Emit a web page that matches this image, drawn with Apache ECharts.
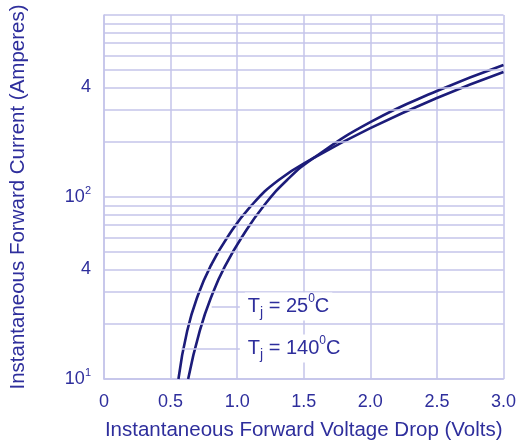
<!DOCTYPE html>
<html>
<head>
<meta charset="utf-8">
<script src="https://cdn.jsdelivr.net/npm/echarts@6/dist/echarts.min.js"></script>
<style>
  html, body { margin: 0; padding: 0; background: #ffffff; }
  #chart { width: 519px; height: 447px; }
</style>
</head>
<body>
<div id="chart"></div>
<script>
// ---- Data ----
const xTicks = [0, 0.5, 1.0, 1.5, 2.0, 2.5, 3.0];
const yMajor = [10, 100, 1000];
const yMinor = [20, 30, 40, 50, 60, 70, 80, 90, 200, 300, 400, 500, 600, 700, 800, 900];
const yFourLabels = [40, 400];

const volt25 = [0.632, 0.719, 0.817, 0.910, 1.041, 1.199, 1.375, 1.575, 2.0, 2.5, 3.0];
const amp25  = [10, 18.4, 29.7, 41.8, 61.1, 89.3, 124, 164, 258, 382, 531];

const volt140 = [0.559, 0.625, 0.709, 0.801, 0.928, 1.104, 1.312, 1.575, 2.0, 2.5, 3.0];
const amp140  = [10, 18.4, 29.3, 41.8, 60.3, 89.3, 124, 164, 239, 350, 486];

// annotation leader lines: [xStart, xEnd, yValue]
const lead25  = [0.809, 1.02, 25];
const lead140 = [0.58, 1.02, 14.7];

const FONT = "Arial, 'Liberation Sans', sans-serif";
const TXT = '#2e2e9c';
const GRID = '#c4c4ea';
const CURVE = '#1c1c7a';

const pairs = (xs, ys) => xs.map((x, i) => [x, ys[i]]);

const annRich = {
  t: { fontSize: 20, lineHeight: 28, color: TXT, fontFamily: FONT },
  j: { fontSize: 14, lineHeight: 13, verticalAlign: 'bottom', color: TXT, fontFamily: FONT },
  o: { fontSize: 12, lineHeight: 11, verticalAlign: 'top', color: TXT, fontFamily: FONT }
};

const chart = echarts.init(document.getElementById('chart'), null, { renderer: 'canvas' });
chart.setOption({
  backgroundColor: '#ffffff',
  animation: false,
  grid: { left: 103, right: 14, top: 15, bottom: 68 },
  xAxis: {
    type: 'value', min: 0, max: 3, interval: 0.5,
    axisLine: { show: true, lineStyle: { color: GRID, width: 1.5 } },
    axisTick: { show: false },
    splitLine: { show: true, lineStyle: { color: GRID, width: 1.5 } },
    axisLabel: {
      margin: 14, fontSize: 18, color: TXT, fontFamily: FONT,
      formatter: v => (v === 0 ? '0' : v.toFixed(1))
    },
    name: 'Instantaneous Forward Voltage Drop (Volts)',
    nameLocation: 'middle', nameGap: 41,
    nameTextStyle: { fontSize: 20.5, color: TXT, fontFamily: FONT }
  },
  yAxis: {
    type: 'log', logBase: 10, min: 10, max: 1000,
    axisLine: { show: true, lineStyle: { color: GRID, width: 1.5 } },
    axisTick: { show: false },
    splitLine: { show: true, lineStyle: { color: GRID, width: 1.5 } },
    axisLabel: {
      margin: 13, color: TXT, fontFamily: FONT,
      formatter: v => {
        if (Math.abs(v - 10) < 1e-6) return '{b|10}{s|1}';
        if (Math.abs(v - 100) < 1e-6) return '{b|10}{s|2}';
        return '';
      },
      rich: {
        b: { fontSize: 18, lineHeight: 24, color: TXT, fontFamily: FONT },
        s: { fontSize: 11, lineHeight: 10, verticalAlign: 'top', color: TXT, fontFamily: FONT }
      }
    },
    name: 'Instantaneous Forward Current (Amperes)',
    nameLocation: 'middle', nameGap: 75,
    nameTextStyle: { fontSize: 20.5, color: TXT, fontFamily: FONT }
  },
  series: [
    {
      name: 'grid', type: 'line', z: 1, silent: true,
      data: [[0, 10]], symbol: 'none', lineStyle: { opacity: 0 },
      markLine: {
        silent: true, symbol: 'none', animation: false,
        lineStyle: { color: GRID, width: 1.5, type: 'solid' },
        label: { show: false },
        data: yMinor.map(v => ({
          yAxis: v,
          label: yFourLabels.includes(v)
            ? { show: true, position: 'start', formatter: '4', distance: 13, fontSize: 18, color: TXT, fontFamily: FONT }
            : { show: false }
        }))
      }
    },
    {
      name: 'Tj = 25°C', type: 'line', z: 3, smooth: 0.5,
      data: pairs(volt25, amp25), symbol: 'none',
      lineStyle: { color: CURVE, width: 2.6 },
      markLine: {
        silent: true, symbol: 'none', animation: false,
        lineStyle: { color: GRID, width: 1.5, type: 'solid' },
        data: [[
          { coord: [lead25[0], lead25[2]] },
          { coord: [lead25[1], lead25[2]],
            label: { show: true, position: 'end', distance: 5, backgroundColor: '#ffffff', padding: [0, 3, 0, 3],
              formatter: '{t|T}{j|j}{t| = 25}{o|0}{t|C}', rich: annRich } }
        ]]
      }
    },
    {
      name: 'Tj = 140°C', type: 'line', z: 3, smooth: 0.5,
      data: pairs(volt140, amp140), symbol: 'none',
      lineStyle: { color: CURVE, width: 2.6 },
      markLine: {
        silent: true, symbol: 'none', animation: false,
        lineStyle: { color: GRID, width: 1.5, type: 'solid' },
        data: [[
          { coord: [lead140[0], lead140[2]] },
          { coord: [lead140[1], lead140[2]],
            label: { show: true, position: 'end', distance: 5, backgroundColor: '#ffffff', padding: [0, 3, 0, 3],
              formatter: '{t|T}{j|j}{t| = 140}{o|0}{t|C}', rich: annRich } }
        ]]
      }
    }
  ]
});
</script>
</body>
</html>
